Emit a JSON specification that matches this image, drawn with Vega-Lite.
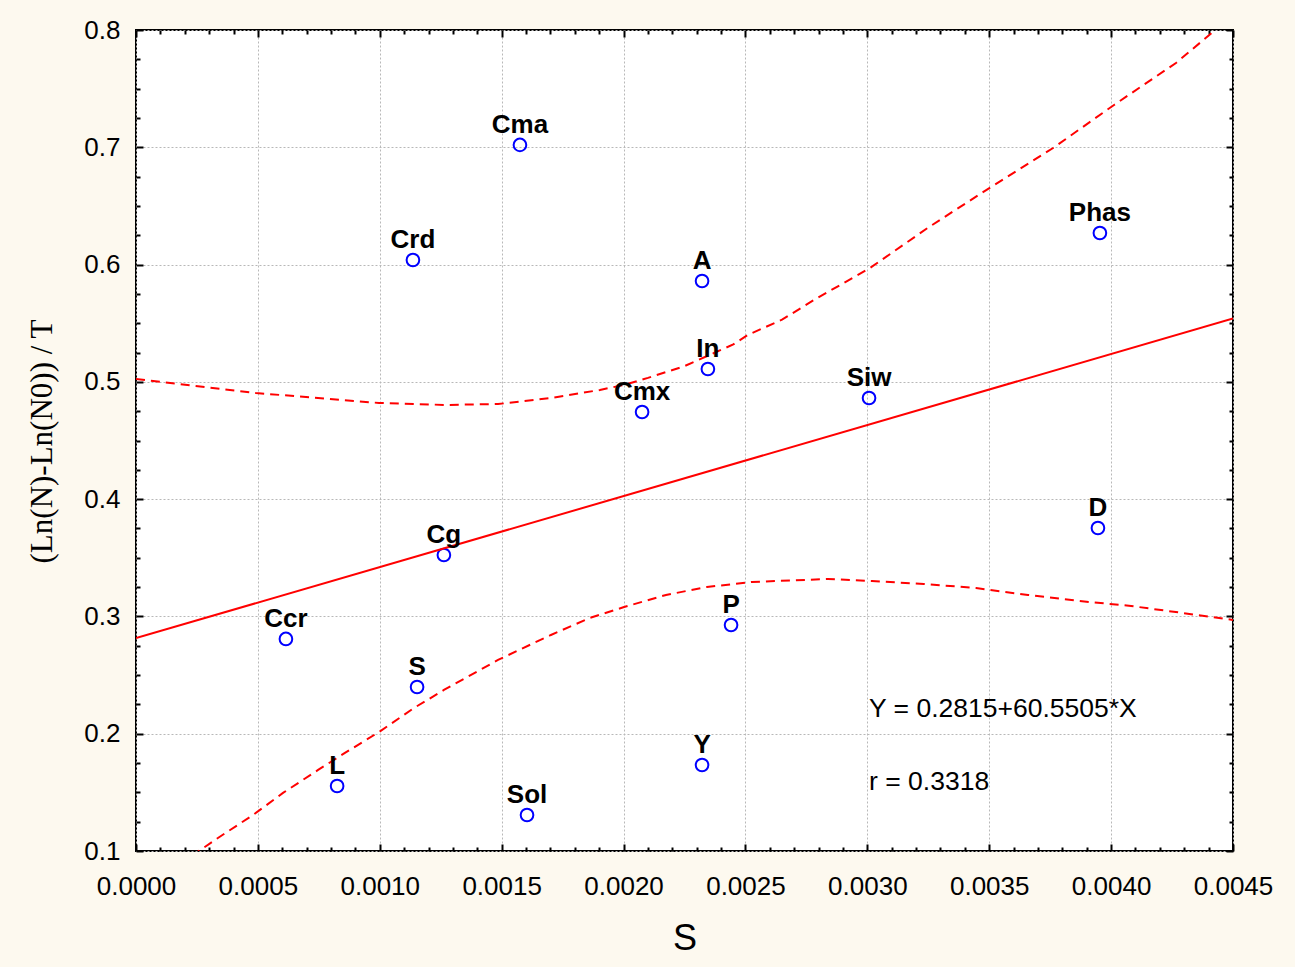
{
  "$schema": "https://vega.github.io/schema/vega-lite/v6.json",
  "width": 1097,
  "height": 821,
  "autosize": "none",
  "padding": {"left": 136, "top": 30, "right": 62, "bottom": 116},
  "background": "#fdf9ef",
  "view": {"fill": "white", "stroke": "black", "strokeWidth": 2},
  "config": {
    "axis": {"labelFont": "Liberation Sans", "labelColor": "black", "tickColor": "black", "domain": false, "tickWidth": 2, "grid": false}
  },
  "datasets": {
    "pts": [
      {"label": "Cma", "S": 0.001575, "rate": 0.7020},
      {"label": "Crd", "S": 0.001136, "rate": 0.6039},
      {"label": "A", "S": 0.002322, "rate": 0.5860},
      {"label": "Phas", "S": 0.003954, "rate": 0.6269},
      {"label": "In", "S": 0.002346, "rate": 0.5110},
      {"label": "Siw", "S": 0.003007, "rate": 0.4862},
      {"label": "Cmx", "S": 0.002076, "rate": 0.4743},
      {"label": "D", "S": 0.003946, "rate": 0.3754},
      {"label": "Cg", "S": 0.001263, "rate": 0.3524},
      {"label": "Ccr", "S": 0.000615, "rate": 0.2808},
      {"label": "P", "S": 0.002441, "rate": 0.2927},
      {"label": "S", "S": 0.001153, "rate": 0.2398},
      {"label": "Y", "S": 0.002322, "rate": 0.1733},
      {"label": "L", "S": 0.000825, "rate": 0.1554},
      {"label": "Sol", "S": 0.001604, "rate": 0.1307}
    ],
    "fit": [
      {"S": 0.0, "rate": 0.2815},
      {"S": 0.0045, "rate": 0.5540}
    ],
    "upper": [
      {"S": 0.0, "rate": 0.5024},
      {"S": 0.000349, "rate": 0.4939},
      {"S": 0.000492, "rate": 0.4905},
      {"S": 0.000997, "rate": 0.4820},
      {"S": 0.001272, "rate": 0.4803},
      {"S": 0.001485, "rate": 0.4811},
      {"S": 0.001702, "rate": 0.4862},
      {"S": 0.001903, "rate": 0.4931},
      {"S": 0.002002, "rate": 0.4974},
      {"S": 0.002100, "rate": 0.5034},
      {"S": 0.002250, "rate": 0.5134},
      {"S": 0.002375, "rate": 0.5250},
      {"S": 0.002450, "rate": 0.5319},
      {"S": 0.002510, "rate": 0.5400},
      {"S": 0.002650, "rate": 0.5530},
      {"S": 0.002781, "rate": 0.5698},
      {"S": 0.003011, "rate": 0.5971},
      {"S": 0.003253, "rate": 0.6320},
      {"S": 0.003507, "rate": 0.6661},
      {"S": 0.003762, "rate": 0.6994},
      {"S": 0.004012, "rate": 0.7361},
      {"S": 0.004266, "rate": 0.7719},
      {"S": 0.004450, "rate": 0.8040}
    ],
    "lower": [
      {"S": 0.000230, "rate": 0.0960},
      {"S": 0.000336, "rate": 0.1111},
      {"S": 0.000480, "rate": 0.1307},
      {"S": 0.000603, "rate": 0.1495},
      {"S": 0.000747, "rate": 0.1691},
      {"S": 0.000857, "rate": 0.1836},
      {"S": 0.000997, "rate": 0.2015},
      {"S": 0.001140, "rate": 0.2219},
      {"S": 0.001263, "rate": 0.2373},
      {"S": 0.001485, "rate": 0.2629},
      {"S": 0.001702, "rate": 0.2842},
      {"S": 0.001862, "rate": 0.2987},
      {"S": 0.002002, "rate": 0.3080},
      {"S": 0.002174, "rate": 0.3183},
      {"S": 0.002342, "rate": 0.3251},
      {"S": 0.002527, "rate": 0.3294},
      {"S": 0.002839, "rate": 0.3319},
      {"S": 0.003019, "rate": 0.3302},
      {"S": 0.003232, "rate": 0.3277},
      {"S": 0.003446, "rate": 0.3242},
      {"S": 0.003659, "rate": 0.3183},
      {"S": 0.003868, "rate": 0.3132},
      {"S": 0.004082, "rate": 0.3089},
      {"S": 0.004295, "rate": 0.3029},
      {"S": 0.004500, "rate": 0.2970}
    ]
  },
  "resolve": {"axis": {"x": "independent", "y": "independent"}},
  "layer": [
    {
      "data": {"name": "pts"},
      "mark": {"type": "point", "shape": "circle", "filled": false, "color": "#0000ff", "strokeWidth": 2, "size": 160, "opacity": 1},
      "encoding": {
        "x": {"field": "S", "type": "quantitative",
          "scale": {"domain": [0, 0.0045], "nice": false, "zero": false},
          "axis": {"orient": "bottom", "values": [0, 0.0005, 0.001, 0.0015, 0.002, 0.0025, 0.003, 0.0035, 0.004, 0.0045],
            "format": ".4f", "tickSize": -7, "labelPadding": 29, "labelFontSize": 26, "labelFlush": false, "labelOverlap": false,
            "title": "S", "titleFont": "Liberation Sans", "titleFontSize": 36, "titleFontWeight": "normal", "titleColor": "black",
            "titleY": 87, "titleBaseline": "middle"}},
        "y": {"field": "rate", "type": "quantitative",
          "scale": {"domain": [0.1, 0.8], "nice": false, "zero": false},
          "axis": {"orient": "left", "values": [0.1, 0.2, 0.3, 0.4, 0.5, 0.6, 0.7, 0.8],
            "format": ".1f", "tickSize": -7, "labelPadding": 23, "labelFontSize": 26, "labelFlush": false, "labelOverlap": false,
            "title": "(Ln(N)-Ln(N0)) / T", "titleFont": "Liberation Serif", "titleFontSize": 31, "titleFontWeight": "normal", "titleColor": "black",
            "titleX": -94, "titleY": 411, "titleAngle": -90, "titleAlign": "center", "titleBaseline": "middle"}}
      }
    },
    {
      "data": {"name": "fit"},
      "mark": {"type": "line", "color": "#ff0000", "strokeWidth": 2, "clip": true},
      "encoding": {
        "x": {"field": "S", "type": "quantitative",
          "axis": {"orient": "top", "values": [0, 0.0005, 0.001, 0.0015, 0.002, 0.0025, 0.003, 0.0035, 0.004, 0.0045],
            "labels": false, "tickSize": -7, "title": null,
            "grid": true, "gridColor": "#b8b8b8", "gridDash": [2, 2], "gridWidth": 1}},
        "y": {"field": "rate", "type": "quantitative",
          "axis": {"orient": "right", "values": [0.1, 0.2, 0.3, 0.4, 0.5, 0.6, 0.7, 0.8],
            "labels": false, "tickSize": -7, "title": null,
            "grid": true, "gridColor": "#b8b8b8", "gridDash": [2, 2], "gridWidth": 1}}
      }
    },
    {
      "data": {"name": "upper"},
      "mark": {"type": "line", "color": "#ff0000", "strokeWidth": 2, "strokeDash": [9, 6], "clip": true},
      "encoding": {
        "x": {"field": "S", "type": "quantitative",
          "axis": {"orient": "bottom", "values": [0.0001, 0.0002, 0.0003, 0.0004, 0.0006, 0.0007, 0.0008, 0.0009, 0.0011, 0.0012, 0.0013, 0.0014, 0.0016, 0.0017, 0.0018, 0.0019, 0.0021, 0.0022, 0.0023, 0.0024, 0.0026, 0.0027, 0.0028, 0.0029, 0.0031, 0.0032, 0.0033, 0.0034, 0.0036, 0.0037, 0.0038, 0.0039, 0.0041, 0.0042, 0.0043, 0.0044],
            "labels": false, "tickSize": -4, "title": null}},
        "y": {"field": "rate", "type": "quantitative",
          "axis": {"orient": "left", "values": [0.125, 0.15, 0.175, 0.225, 0.25, 0.275, 0.325, 0.35, 0.375, 0.425, 0.45, 0.475, 0.525, 0.55, 0.575, 0.625, 0.65, 0.675, 0.725, 0.75, 0.775],
            "labels": false, "tickSize": -4, "title": null}}
      }
    },
    {
      "data": {"name": "lower"},
      "mark": {"type": "line", "color": "#ff0000", "strokeWidth": 2, "strokeDash": [9, 6], "clip": true},
      "encoding": {
        "x": {"field": "S", "type": "quantitative",
          "axis": {"orient": "top", "values": [0.0001, 0.0002, 0.0003, 0.0004, 0.0006, 0.0007, 0.0008, 0.0009, 0.0011, 0.0012, 0.0013, 0.0014, 0.0016, 0.0017, 0.0018, 0.0019, 0.0021, 0.0022, 0.0023, 0.0024, 0.0026, 0.0027, 0.0028, 0.0029, 0.0031, 0.0032, 0.0033, 0.0034, 0.0036, 0.0037, 0.0038, 0.0039, 0.0041, 0.0042, 0.0043, 0.0044],
            "labels": false, "tickSize": -4, "title": null}},
        "y": {"field": "rate", "type": "quantitative",
          "axis": {"orient": "right", "values": [0.125, 0.15, 0.175, 0.225, 0.25, 0.275, 0.325, 0.35, 0.375, 0.425, 0.45, 0.475, 0.525, 0.55, 0.575, 0.625, 0.65, 0.675, 0.725, 0.75, 0.775],
            "labels": false, "tickSize": -4, "title": null}}
      }
    },
    {
      "data": {"name": "pts"},
      "mark": {"type": "text", "font": "Liberation Sans", "fontWeight": "bold", "fontSize": 26, "color": "black", "align": "center", "baseline": "alphabetic", "dy": -12},
      "encoding": {
        "x": {"field": "S", "type": "quantitative", "axis": null},
        "y": {"field": "rate", "type": "quantitative", "axis": null},
        "text": {"field": "label"}
      }
    },
    {
      "data": {"values": [{"eq": "Y = 0.2815+60.5505*X"}]},
      "mark": {"type": "text", "font": "Liberation Sans", "fontSize": 26.5, "color": "black", "align": "left", "baseline": "alphabetic"},
      "encoding": {
        "x": {"datum": 0.003007, "type": "quantitative", "axis": null},
        "y": {"datum": 0.2142, "type": "quantitative", "axis": null},
        "text": {"field": "eq"}
      }
    },
    {
      "data": {"values": [{"eq": "r = 0.3318"}]},
      "mark": {"type": "text", "font": "Liberation Sans", "fontSize": 26.5, "color": "black", "align": "left", "baseline": "alphabetic"},
      "encoding": {
        "x": {"datum": 0.003007, "type": "quantitative", "axis": null},
        "y": {"datum": 0.152, "type": "quantitative", "axis": null},
        "text": {"field": "eq"}
      }
    }
  ]
}
